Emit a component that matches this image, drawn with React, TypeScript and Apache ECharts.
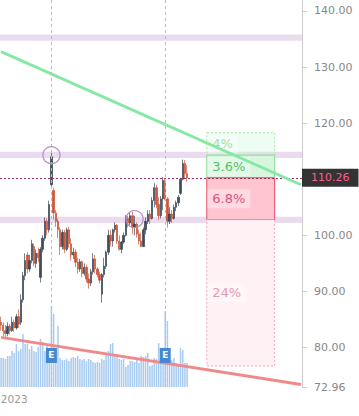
import React, { useEffect, useRef } from "react";
import * as echarts from "echarts";

// [open, close, low, high]
const ohlc: number[][] = [
  [84.5, 84, 83, 85.5], [84, 83, 82, 84.5], [83, 82.5, 81.5, 84], [82.5, 83.8, 82, 84.5],
  [83.8, 83, 82.3, 84.2], [83, 84.5, 82.8, 85.5], [84.5, 83.5, 82.8, 85], [83.5, 85.5, 83.2, 86],
  [85.5, 84.2, 83.5, 86.8], [84.5, 88.5, 84, 89.5], [88.5, 92.8, 88, 93.5], [92.8, 95.5, 92, 96.8],
  [96.5, 94, 93.2, 97], [94, 95.5, 93.5, 96.5], [95.5, 98.5, 95, 99.2], [98, 95, 94.5, 98.5],
  [95, 96.8, 94.2, 97.5], [96.8, 96, 95.2, 97.8], [92.5, 97.5, 91.6, 97.9], [97.5, 99.5, 97, 100],
  [99.5, 102.5, 99, 103.2], [102.5, 101, 100, 103], [101, 105.5, 100.5, 106.2], [109, 114, 108.5, 115.2],
  [108, 104, 102.8, 108.5], [104, 102.5, 101.5, 104.5], [102.5, 101, 99.5, 103], [101, 98, 96.5, 101.5],
  [98, 100.5, 97.5, 101], [100.5, 97.5, 96.8, 101], [97.5, 101, 97.2, 101.4], [101, 98.5, 97.8, 101.5],
  [98.5, 96.5, 95.5, 99.5], [96.5, 97, 95.8, 97.8], [97, 95.2, 94.3, 97.5], [95.2, 94, 93.2, 96],
  [94, 95.3, 93.5, 95.8], [95.3, 93.2, 92.5, 95.5], [93.2, 94.3, 92.8, 95], [94.3, 92.2, 91.6, 94.8],
  [92.2, 91.5, 90.5, 93.2], [91.5, 93.5, 91, 94], [93.5, 95.8, 93, 96.8], [95.8, 94, 93.2, 96.5],
  [94, 93, 92.5, 94.3], [93, 92, 91.4, 93.5], [89.5, 93, 88, 93.3], [93, 94.5, 92.5, 96],
  [94.5, 97, 94, 97.3], [97, 100, 96.5, 101], [100, 99, 98, 101], [99, 101, 98, 101.2],
  [101, 101.8, 100.5, 102.3], [101.8, 99, 98.5, 102], [99, 97.5, 97.3, 100], [97.5, 98.8, 96.8, 99],
  [98.8, 100, 98.5, 100.5], [100, 103, 99.8, 103.6], [103, 102.2, 101.4, 103.5], [102.2, 103.5, 101.8, 104],
  [103.5, 101.5, 100.2, 104.2], [101.5, 102, 100, 103.5], [102, 100.2, 99.6, 102.3], [100.2, 99, 98.4, 101],
  [99, 98, 97.9, 100.5], [98, 101, 97.9, 101.4], [101, 102.5, 100.2, 103.2], [102.5, 103.8, 102, 104.5],
  [103.8, 103, 102, 104.5], [103, 106.2, 102.8, 106.8], [106.2, 108.5, 105, 109.3], [108.5, 105.5, 104.8, 109],
  [105.5, 103.5, 102.7, 106.8], [103.5, 106.5, 103, 107], [106.5, 109.8, 104.5, 110.4], [109.8, 106.5, 106.2, 110],
  [106.5, 102.5, 101.4, 106.8], [102.5, 103.8, 102, 105], [103.8, 103, 102.2, 104.5], [103, 105, 102.8, 105.5],
  [105, 105.8, 104.3, 106.2], [105.8, 106.8, 105.2, 107.2], [107.5, 110, 107.2, 110.3], [110, 112.8, 109.8, 113.5],
  [112.8, 111, 110.2, 113.4], [111, 110.26, 109.5, 112.5],
];

const volumes: number[] = [
  15, 15, 14.5, 16, 16, 18.6, 17.6, 22.2, 18.6, 19.6, 27.4, 22.2, 22.2, 19.6, 21.2, 18.6,
  18.1, 20.7, 24.8, 23.3, 18.6, 21.2, 18.6, 41.9, 37.7, 18.6, 31.5, 15, 14, 14, 14.5, 13.4,
  15, 15.5, 15, 16, 14.5, 14, 14.5, 13.4, 14.5, 14, 12.9, 12.4, 12.9, 12.4, 14.5, 14,
  17.6, 18.6, 22.2, 22.7, 16, 15.5, 14.5, 14, 14.5, 10.3, 11.4, 13.4, 13.4, 12.9, 14, 12.4,
  16, 15.5, 16, 17.6, 10.9, 11.4, 15, 14.5, 22.7, 20.2, 19.6, 39.3, 34.1, 15, 14, 15,
  12.4, 11.9, 20.2, 19.1, 12.4, 12.4,
];

const TOTAL_SLOTS = 138;
const lastPrice = 110.26;
const yMin = 72.96;
const yMax = 141.96;
const yLabels = [72.96, 80, 90, 100, 120, 130, 140];
const bands: number[][] = [[134.7, 135.8], [113.8, 114.9], [102.2, 103.3]];
const greenTrend = [132.77, 109.02];
const redTrend = [81.81, 73.39];
const earningsIdx = [23, 75];
const circleMarks: number[][] = [[23, 114.3], [61, 102.9]];
const boxX = [94, 125];
const boxLevels = { greenTop: 118.3, greenMid: 114.3, redBottom: 102.8, pinkBottom: 76.7 };
const boxLabels = ["4%", "3.6%", "6.8%", "24%"];
const xLabel = { idx: 6, text: "2023" };

export default function App() {
  const ref = useRef<HTMLDivElement>(null);
  useEffect(() => {
    document.body.style.margin = "0";
    const chart = echarts.init(ref.current!, null, { renderer: "svg" });
    const categories = Array.from({ length: TOTAL_SLOTS }, (_, i) => String(i));
    const font = "DejaVu Sans";
    const lbl = (text: string, color: string) => ({
      show: true,
      position: "insideLeft",
      distance: 1,
      formatter: text,
      color,
      fontSize: 13,
      fontFamily: font,
      backgroundColor: "rgba(255,255,255,0.35)",
      padding: [3, 5],
    });
    chart.setOption({
      animation: false,
      grid: { left: 0, right: 57, top: 0, bottom: 29, outerBoundsMode: "none", containLabel: false },
      xAxis: {
        type: "category",
        data: categories,
        axisLine: { show: false },
        axisTick: { show: false },
        axisLabel: {
          interval: (i: number) => i === xLabel.idx,
          formatter: () => xLabel.text,
          color: "#999",
          fontSize: 10.5,
          fontFamily: font,
          margin: 6,
        },
        splitLine: { show: false },
      },
      yAxis: [
        {
          type: "value",
          position: "right",
          min: yMin,
          max: yMax,
          scale: true,
          axisLine: { show: true, lineStyle: { color: "#ccc" } },
          axisTick: { show: true, length: 5, lineStyle: { color: "#ccc" }, customValues: yLabels },
          axisLabel: {
            customValues: yLabels,
            formatter: (v: number) => v.toFixed(2),
            color: "#888",
            fontSize: 11,
            fontFamily: font,
            margin: 12,
          },
          splitLine: { show: false },
        },
        {
          type: "value",
          min: 0,
          max: 200,
          show: false,
          splitLine: { show: false },
        },
      ],
      series: [
        {
          type: "bar",
          yAxisIndex: 1,
          data: volumes,
          barWidth: "70%",
          itemStyle: { color: "#a9cbf0" },
          z: 1,
          markPoint: {
            symbol: "rect",
            symbolSize: [11, 15],
            itemStyle: { color: "#4288d6" },
            label: { show: true, formatter: "E", color: "#fff", fontSize: 9, fontWeight: "bold", fontFamily: font },
            data: earningsIdx.map((i) => ({ coord: [i, 16.3] })),
            z: 10,
          },
        },
        {
          type: "candlestick",
          data: ohlc,
          barWidth: "85%",
          itemStyle: {
            color: "#2f3d4b",
            color0: "#c9482a",
            borderColor: "#2f3d4b",
            borderColor0: "#c9482a",
            borderWidth: 0.7,
            opacity: 0.92,
          },
          z: 3,
          markArea: {
            silent: true,
            data: [
              ...bands.map((b) => [
                { yAxis: b[0], itemStyle: { color: "#eadcee" } },
                { yAxis: b[1] },
              ]),
              [
                {
                  xAxis: boxX[0], yAxis: boxLevels.greenTop,
                  itemStyle: { color: "rgba(200,248,210,0.3)", borderColor: "#9fe8ae", borderWidth: 1, borderType: [2, 2] },
                  label: lbl(boxLabels[0], "#a5dcae"),
                },
                { xAxis: boxX[1], yAxis: boxLevels.greenMid },
              ],
              [
                {
                  xAxis: boxX[0], yAxis: boxLevels.greenMid,
                  itemStyle: { color: "#d8f6dd", borderColor: "#86dd95", borderWidth: 1 },
                  label: lbl(boxLabels[1], "#52c266"),
                },
                { xAxis: boxX[1], yAxis: lastPrice },
              ],
              [
                {
                  xAxis: boxX[0], yAxis: lastPrice,
                  itemStyle: { color: "#ffc6d1", borderColor: "#e84a6c", borderWidth: 1 },
                  label: lbl(boxLabels[2], "#d8547c"),
                },
                { xAxis: boxX[1], yAxis: boxLevels.redBottom },
              ],
              [
                {
                  xAxis: boxX[0], yAxis: boxLevels.redBottom,
                  itemStyle: { color: "#fff1f4", borderColor: "#f4a0bb", borderWidth: 1, borderType: [2, 2] },
                  label: lbl(boxLabels[3], "#e29ab3"),
                },
                { xAxis: boxX[1], yAxis: boxLevels.pinkBottom },
              ],
            ],
          },
          markLine: {
            silent: true,
            symbol: ["none", "none"],
            data: [
              ...earningsIdx.map((i) => ({
                xAxis: i,
                lineStyle: { color: "#bbb", type: [3, 3], width: 1 },
                label: { show: false },
              })),
              {
                yAxis: lastPrice,
                lineStyle: { color: "#a0306a", type: [2, 2], width: 1 },
                label: {
                  show: true,
                  position: "end",
                  distance: 0,
                  formatter: lastPrice.toFixed(2),
                  color: "#ff5c8d",
                  backgroundColor: "#333",
                  padding: [4, 9, 3, 9],
                  fontSize: 11,
                  fontFamily: font,
                },
              },
            ],
          },
          markPoint: {
            symbol: "circle",
            symbolSize: 17,
            itemStyle: { color: "rgba(0,0,0,0)", borderColor: "#b78cc8", borderWidth: 1.2 },
            label: { show: false },
            data: circleMarks.map((c) => ({ coord: c })),
          },
        },
        {
          type: "line",
          data: [[0, greenTrend[0]], [TOTAL_SLOTS - 1, greenTrend[1]]],
          symbol: "none",
          lineStyle: { color: "#86e8a4", width: 3 },
          z: 5,
        },
        {
          type: "line",
          data: [[0, redTrend[0]], [TOTAL_SLOTS - 1, redTrend[1]]],
          symbol: "none",
          lineStyle: { color: "#f08a8a", width: 3 },
          z: 5,
        },
      ],
    });
    return () => chart.dispose();
  }, []);
  return <div ref={ref} style={{ width: 359, height: 416 }} />;
}
